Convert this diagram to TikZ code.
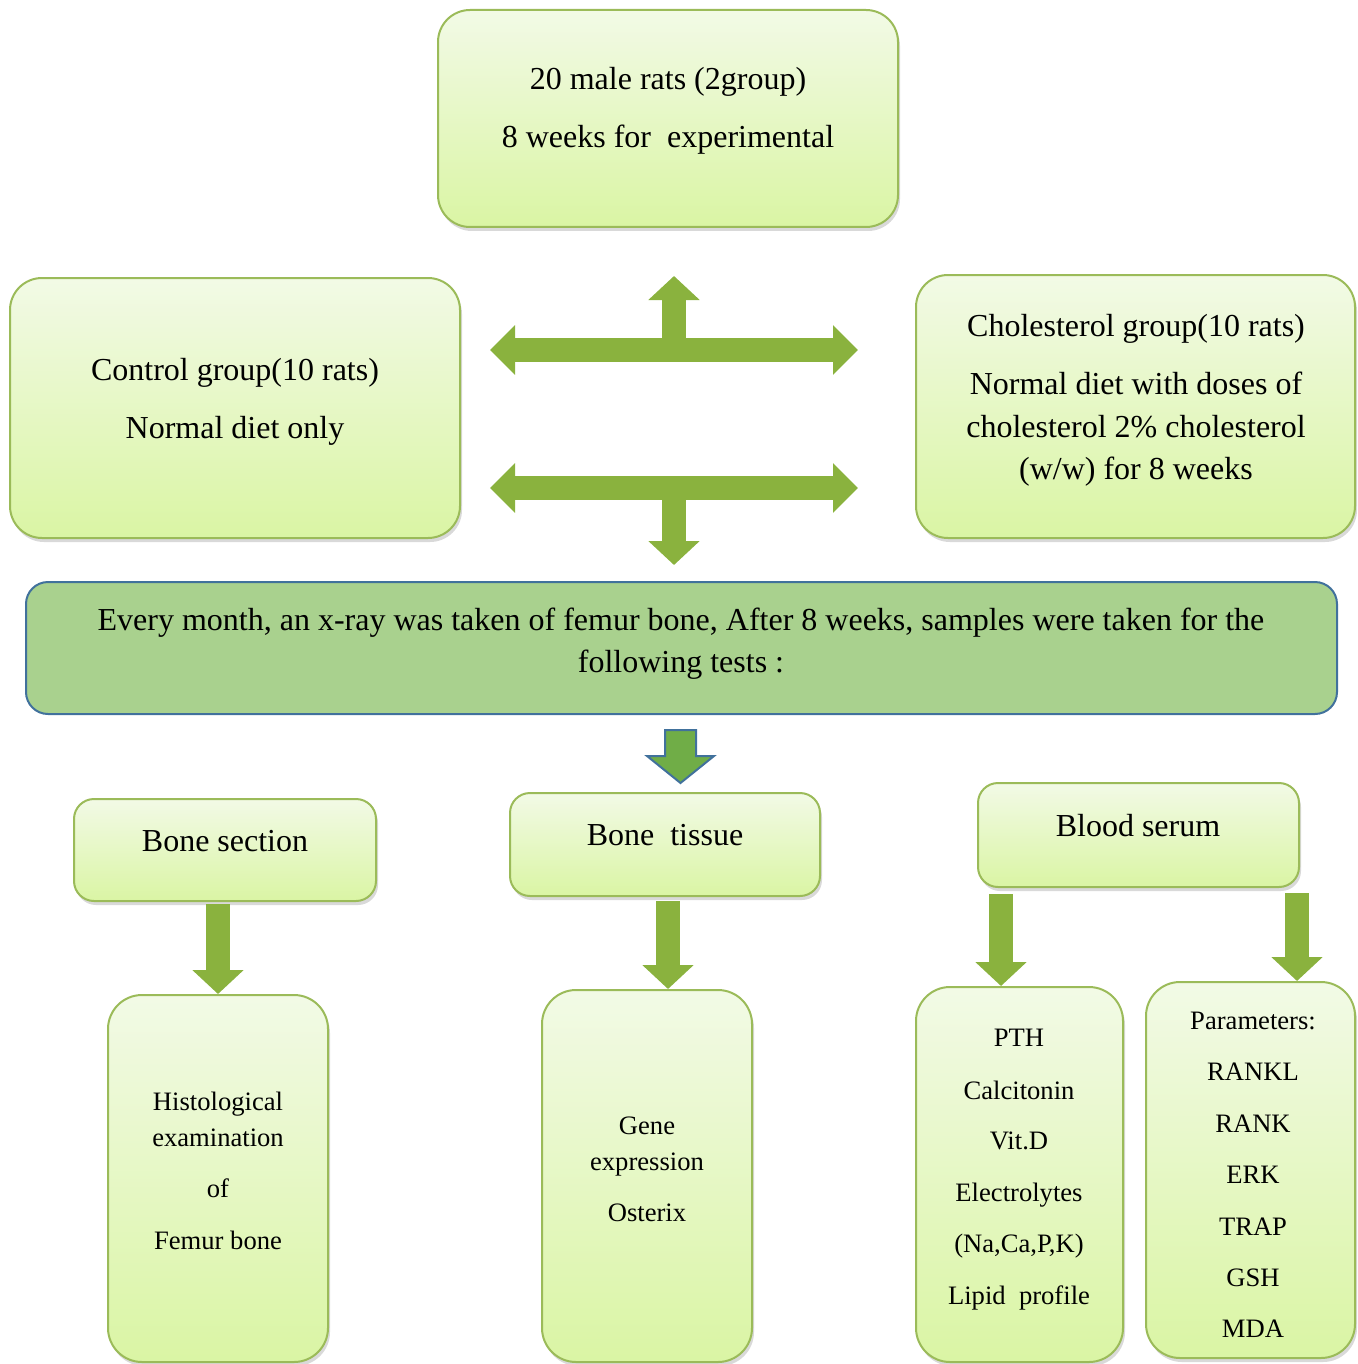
\documentclass[tikz,border=0pt]{standalone}
\usepackage{fontspec}
\setmainfont{Liberation Serif}
\usetikzlibrary{arrows.meta, shadows, positioning}

\definecolor{boxtop}{HTML}{F2FAE6}
\definecolor{boxbot}{HTML}{DAF5A4}
\definecolor{boxline}{HTML}{9BBB59}
\definecolor{bandfill}{HTML}{A9D18E}
\definecolor{bandline}{HTML}{41719C}
\definecolor{flowgreen}{HTML}{8AB23E}
\definecolor{flowlight}{HTML}{A6CF58}
\definecolor{downfill}{HTML}{70AD47}

\tikzset{
  box/.style={rectangle, rounded corners=#1, draw=boxline, line width=1pt,
    top color=boxtop, bottom color=boxbot, inner sep=0pt,
    drop shadow={shadow xshift=1pt, shadow yshift=-2pt, opacity=0.25, fill=black!60}},
  box/.default=16pt,
  txt/.style={anchor=base, inner sep=0pt, font=\fontsize{16}{19}\selectfont},
  lst/.style={anchor=base, inner sep=0pt, font=\fontsize{13.3}{16}\selectfont},
  flow/.style={line width=12pt, draw=flowgreen, -{Triangle[width=25pt,length=12pt]}},
  twoway/.style={line width=12pt, draw=flowgreen,
    {Triangle[width=24pt,length=12.5pt]}-{Triangle[width=24pt,length=12.5pt]}}
}

\begin{document}
\begin{tikzpicture}[x=0.5pt, y=-0.5pt]
    \useasboundingbox (0,0) rectangle (1357,1364);

    % boxes
    \node (rats) [box, minimum width=230pt, minimum height=108.5pt] at (668,118.5) {};
    \node (ctrl) [box, minimum width=225pt, minimum height=130pt] at (235,408) {};
    \node (chol) [box, minimum width=219.5pt, minimum height=131.5pt] at (1135.5,406.5) {};
    \node (band) [rectangle, rounded corners=11pt, draw=bandline, line width=1pt, fill=bandfill,
        minimum width=655.5pt, minimum height=66pt] at (681.5,648) {};
    \node (bsec) [box=10pt, minimum width=151pt, minimum height=51pt] at (225,850) {};
    \node (btis) [box=10pt, minimum width=155pt, minimum height=51.5pt] at (665,844.5) {};
    \node (bser) [box=10pt, minimum width=160.5pt, minimum height=52pt] at (1138.5,835) {};
    \node (hist) [box=17pt, minimum width=110pt, minimum height=183.5pt] at (218,1178.5) {};
    \node (gene) [box=17pt, minimum width=105pt, minimum height=186pt] at (647,1176) {};
    \node (labs) [box=17pt, minimum width=103.5pt, minimum height=187.5pt] at (1019.5,1174.5) {};
    \node (pars) [box=17pt, minimum width=104.5pt, minimum height=188pt] at (1250.5,1170) {};

    % texts
    \node (rats1) [txt] at (668,90) {20 male rats (2group)};
    \node (rats2) [txt] at (668,148) {8 weeks for~ experimental};
    \node (ctrl1) [txt] at (235,380) {Control group(10 rats)};
    \node (ctrl2) [txt] at (235,438) {Normal diet only};
    \foreach \t/\y [count=\i] in {Cholesterol group(10 rats)/336, Normal diet with doses of/394,
        cholesterol 2\% cholesterol/437, {(w/w) for 8 weeks}/479}
        \node (chol\i) [txt] at (1136,\y) {\t};
    \node (band1) [txt] at (681,630) {Every month, an x-ray was taken of femur bone, After 8 weeks, samples were taken for the};
    \node (band2) [txt] at (681,672) {following tests :};
    \node (bsect) [txt] at (225,851) {Bone section};
    \node (btist) [txt] at (665,845) {Bone~ tissue};
    \node (bsert) [txt] at (1138,836) {Blood serum};
    \foreach \t/\y [count=\i] in {Histological/1110, examination/1146, of/1197, Femur bone/1249}
        \node (hist\i) [lst] at (218,\y) {\t};
    \foreach \t/\y [count=\i] in {Gene/1134, expression/1170, Osterix/1221}
        \node (gene\i) [lst] at (647,\y) {\t};
    \foreach \t/\y [count=\i] in {PTH/1046, Calcitonin/1099, Vit.D/1149, Electrolytes/1201,
        {(Na,Ca,P,K)}/1252, Lipid~ profile/1304}
        \node (labs\i) [lst] at (1019,\y) {\t};
    \foreach \t/\y [count=\i] in {Parameters:/1029, RANKL/1080, RANK/1132, ERK/1183,
        TRAP/1235, GSH/1286, MDA/1337}
        \node (pars\i) [lst] at (1253,\y) {\t};

    % split arrows between the groups
    \coordinate (upL) at (490,350);
    \coordinate (upR) at (858,350);
    \coordinate (upM) at (674,350);
    \coordinate (upT) at (674,276);
    \coordinate (loL) at (490,488);
    \coordinate (loR) at (858,488);
    \coordinate (loM) at (674,488);
    \coordinate (loB) at (674,565);
    \draw[twoway] (upL) -- (upR);
    \draw[flow] (upM) -- (upT);
    \draw[twoway] (loL) -- (loR);
    \draw[flow] (loM) -- (loB);

    % arrow under the band
    \coordinate (tip) at (680.5,783);
    \draw[bandline, line width=1pt, fill=downfill] (tip) -- ++(-33.5,-27) -- ++(18,0) -- ++(0,-26)
        -- ++(31,0) -- ++(0,26) -- ++(18,0) -- cycle;

    % arrows to the tests
    \draw[flow] ([yshift=-1pt]hist.north |- bsec.south) -- (hist.north);
    \draw[flow] ([xshift=1.5pt, yshift=-2pt]btis.south) -- ([xshift=1.5pt]btis.south |- gene.north);
    \draw[flow] ([xshift=12pt, yshift=-3pt]bser.south west) -- ([xshift=12pt]bser.south west |- labs.north);
    \draw[flow] ([xshift=-1.5pt, yshift=-2.5pt]bser.south east) -- ([xshift=-1.5pt]bser.south east |- pars.north);
\end{tikzpicture}
\end{document}
